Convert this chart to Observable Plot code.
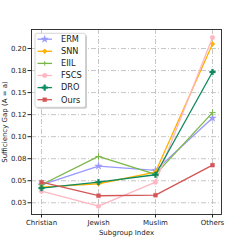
<!DOCTYPE html>
<html>
<head>
<meta charset="utf-8">
<script src="https://cdn.jsdelivr.net/npm/d3@7"></script>
<script src="https://cdn.jsdelivr.net/npm/@observablehq/plot@0.6"></script>
<style>
body { margin: 0; background: white; }
</style>
</head>
<body>
<div id="chart"></div>
<script>
const categories = ["Christian", "Jewish", "Muslim", "Others"];
const seriesNames = ["ERM", "SNN", "EIIL", "FSCS", "DRO", "Ours"];
const erm  = [0.0452, 0.0666, 0.0617, 0.1211];
const snn  = [0.0427, 0.0466, 0.0598, 0.2052];
const eiil = [0.0455, 0.0776, 0.0572, 0.1273];
const fscs = [0.0382, 0.0211, 0.0484, 0.2125];
const dro  = [0.0416, 0.0484, 0.0568, 0.1734];
const ours = [0.0484, 0.0330, 0.0336, 0.0677];
const yTicks = [0.025, 0.05, 0.075, 0.1, 0.125, 0.15, 0.175, 0.2];
const yTickLabels = ["0.03", "0.05", "0.08", "0.10", "0.12", "0.15", "0.18", "0.20"];

const seriesValues = [erm, snn, eiil, fscs, dro, ours];
const colors = ["#9999ff", "#ffb000", "#7ab648", "#ffb6c1", "#0e8a5f", "#d45656"];
const symbols = ["star", "diamond2", "plus", "circle", "cross", "square"];
const radii = [2.3, 2.2, 2.2, 2.3, 2.4, 2.2];

const rows = [];
seriesNames.forEach((s, si) => {
  categories.forEach((c, ci) => rows.push({series: s, cat: c, value: seriesValues[si][ci]}));
});

const lineMarks = [];
seriesNames.forEach((s, si) => {
  const data = rows.filter(r => r.series === s);
  lineMarks.push(Plot.line(data, {x: "cat", y: "value", stroke: colors[si], strokeWidth: 1.3}));
  const isStroke = symbols[si] === "plus";
  lineMarks.push(Plot.dot(data, {
    x: "cat", y: "value", symbol: () => symbols[si], r: radii[si],
    fill: isStroke ? "none" : colors[si], stroke: colors[si], strokeWidth: isStroke ? 1 : 0.4
  }));
});

const grid = {stroke: "#b8b8b8", strokeDasharray: "5,2,1,2", strokeWidth: 0.8};

const plot = Plot.plot({
  width: 245, height: 245,
  marginLeft: 31, marginRight: 24, marginTop: 29, marginBottom: 31,
  style: {fontFamily: "DejaVu Sans", fontSize: "7px", background: "white", color: "#222"},
  x: {type: "point", domain: categories, padding: 0.15},
  y: {domain: [0.0117, 0.2216]},
  marks: [
    Plot.ruleY(yTicks, grid),
    Plot.ruleX(categories, grid),
    Plot.axisY({ticks: yTicks, tickFormat: d => yTickLabels[yTicks.indexOf(d)], tickSize: 3.5, tickPadding: 1.5,
      label: "Sufficiency Gap (A = a)", labelAnchor: "center", labelArrow: "none", labelOffset: 29, fontSize: 7}),
    Plot.axisX({tickSize: 3.5, tickPadding: 2.5, label: "Subgroup Index", labelAnchor: "center", labelArrow: "none",
      labelOffset: 20, fontSize: 7}),
    ...lineMarks,
    Plot.frame({stroke: "#222", strokeWidth: 0.9})
  ]
});

// Legend
const svg = d3.select(plot);
const lg = svg.append("g").attr("style", "font-family: 'DejaVu Sans'; font-size: 8.2px;").attr("text-anchor", "start");
lg.append("rect").attr("x", 36.5).attr("y", 34.8).attr("width", 50.5).attr("height", 74).attr("rx", 2)
  .attr("fill", "#aaaaaa").attr("opacity", 0.6);
lg.append("rect").attr("x", 35).attr("y", 33.3).attr("width", 50.5).attr("height", 74).attr("rx", 2)
  .attr("fill", "white").attr("stroke", "#cccccc").attr("stroke-width", 0.8);
const symMap = {star: d3.symbolStar, diamond2: d3.symbolDiamond2, plus: d3.symbolPlus, circle: d3.symbolCircle, cross: d3.symbolCross, square: d3.symbolSquare};
seriesNames.forEach((s, i) => {
  const y = 39.2 + i * 12.1;
  lg.append("line").attr("x1", 37.5).attr("x2", 52).attr("y1", y).attr("y2", y)
    .attr("stroke", colors[i]).attr("stroke-width", 1.3);
  const isStroke = symbols[i] === "plus";
  const size = Math.PI * radii[i] * radii[i];
  lg.append("path").attr("d", d3.symbol(symMap[symbols[i]], isStroke ? size * 0.5 : size)())
    .attr("transform", `translate(44.7,${y})`)
    .attr("fill", isStroke ? "none" : colors[i]).attr("stroke", colors[i]).attr("stroke-width", isStroke ? 1 : 0.4);
  lg.append("text").attr("x", 61).attr("y", y).attr("dy", "0.35em").attr("text-anchor", "start").attr("fill", "#222").text(s);
});

document.getElementById("chart").appendChild(plot);
</script>
</body>
</html>
